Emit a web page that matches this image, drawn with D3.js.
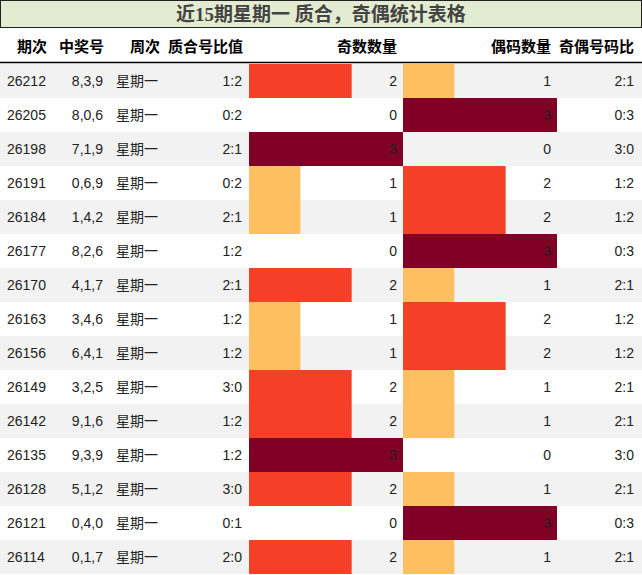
<!DOCTYPE html><html><head><meta charset="utf-8"><script src="https://cdn.jsdelivr.net/npm/d3@7"></script>
<style>body{margin:0;background:#fff}</style></head><body><svg id="c" width="642" height="575"></svg><script>
const periods=["26212","26205","26198","26191","26184","26177","26170","26163","26156","26149","26142","26135","26128","26121","26114"];
const numbers=["8,3,9","8,0,6","7,1,9","0,6,9","1,4,2","8,2,6","4,1,7","3,4,6","6,4,1","3,2,5","9,1,6","9,3,9","5,1,2","0,4,0","0,1,7"];
const primeRatio=["1:2","0:2","2:1","0:2","2:1","1:2","2:1","1:2","1:2","3:0","1:2","1:2","3:0","0:1","2:0"];
const oddCount=[2,0,3,1,1,0,2,1,1,2,2,3,2,0,2];
const evenCount=[1,3,0,2,2,3,1,2,2,1,1,0,1,3,1];
const oeRatio=["2:1","0:3","3:0","1:2","1:2","0:3","2:1","1:2","1:2","2:1","2:1","3:0","2:1","0:3","2:1"];
const headers=["期次","中奖号","周次","质合号比值","奇数数量","偶码数量","奇偶号码比"];
const svg=d3.select("#c");
const font="'Liberation Sans','Noto Sans CJK SC',sans-serif";
svg.append("rect").attr("x",0.5).attr("y",0.5).attr("width",641).attr("height",27).attr("fill","#e3ebd0").attr("stroke","#222");
svg.append("text").attr("x",321).attr("y",21).attr("text-anchor","middle").attr("font-family","'Liberation Serif','Noto Sans CJK SC',serif").attr("font-weight","bold").attr("font-size",19).attr("fill","#444").text("近15期星期一 质合，奇偶统计表格");
const y=d3.scaleBand().domain(d3.range(15)).range([64,574]);
const color=d3.scaleOrdinal().domain([1,2,3]).range(["#fdbf5f","#f44027","#800026"]);
const xo=d3.scaleLinear().domain([0,3]).range([249,403]);
const xe=d3.scaleLinear().domain([0,3]).range([403,557]);
const hx=[47,104,160,243,397,551,634];
headers.forEach((h,i)=>svg.append("text").attr("x",hx[i]).attr("y",52).attr("text-anchor","end").attr("font-family",font).attr("font-weight","bold").attr("font-size",15).attr("fill","#000").text(h));
svg.append("line").attr("x1",0).attr("x2",642).attr("y1",62.5).attr("y2",62.5).attr("stroke","#000").attr("stroke-width",1.5);
const g=svg.selectAll("g.r").data(d3.range(15)).join("g");
g.append("rect").attr("x",0).attr("y",i=>y(i)).attr("width",642).attr("height",y.bandwidth()).attr("fill",i=>i%2==0?"#f2f2f2":"#fff");
g.filter(i=>oddCount[i]>0).append("rect").attr("x",xo(0)).attr("y",i=>y(i)).attr("width",i=>xo(oddCount[i])-xo(0)).attr("height",y.bandwidth()).attr("fill",i=>color(oddCount[i]));
g.filter(i=>evenCount[i]>0).append("rect").attr("x",xe(0)).attr("y",i=>y(i)).attr("width",i=>xe(evenCount[i])-xe(0)).attr("height",y.bandwidth()).attr("fill",i=>color(evenCount[i]));
const cols=[[i=>periods[i],7,"start"],[i=>numbers[i],103,"end"],[i=>"星期一",116,"start"],[i=>primeRatio[i],242,"end"],[i=>oddCount[i],397,"end"],[i=>evenCount[i],551,"end"],[i=>oeRatio[i],634,"end"]];
cols.forEach(([f,x,a])=>g.append("text").attr("x",x).attr("y",i=>y(i)+y.bandwidth()/2+5).attr("text-anchor",a).attr("font-family",font).attr("font-size",14).attr("fill","#222").text(f));
</script></body></html>
